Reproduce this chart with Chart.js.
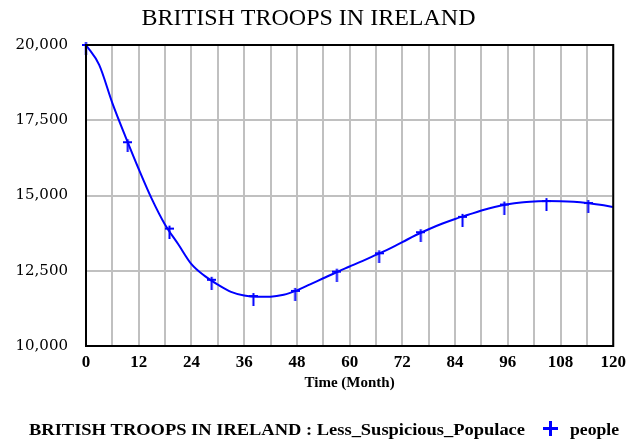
<!DOCTYPE html>
<html>
<head>
<meta charset="utf-8">
<script src="https://cdn.jsdelivr.net/npm/chart.js@4/dist/chart.umd.min.js"></script>
<style>
  html, body { margin: 0; padding: 0; background: #fff; }
  #wrap { width: 632px; height: 444px; }
</style>
</head>
<body>
<div id="wrap"><canvas id="myChart" width="632" height="444"></canvas></div>
<script>
// values
const months = [0, 3, 6, 9, 12, 15, 18, 21, 24, 27, 30, 33, 36, 39, 42, 45, 48, 51, 54, 57, 60,
  63, 66, 69, 72, 75, 78, 81, 84, 87, 90, 93, 96, 99, 102, 105, 108, 111, 114, 117, 120];
const troops = [20000, 19340, 18070, 16950, 15880, 14880, 14030, 13380, 12720, 12330, 12040,
  11800, 11680, 11640, 11640, 11700, 11850, 12050, 12250, 12450, 12640,
  12830, 13030, 13230, 13450, 13680, 13880, 14060, 14220, 14360, 14500,
  14620, 14710, 14770, 14800, 14815, 14810, 14790, 14750, 14690, 14620];
const markerMonths = [0, 9.5, 19, 28.6, 38.1, 47.6, 57.1, 66.7, 76.2, 85.7, 95.2, 104.8, 114.3];
const markerTroops = [20000, 16770, 13900, 12200, 11660, 11830, 12470, 13080, 13780, 14290, 14700, 14815, 14750];
const yTicks = [10000, 12500, 15000, 17500, 20000];

const seriesName = "BRITISH TROOPS IN IRELAND : Less_Suspicious_Populace";
const unitName = "people";
const blue = "#0000ff";

// "+" marker that hangs mostly below the line, like the original
function makeMarker() {
  const c = document.createElement("canvas");
  c.width = 9;
  c.height = 20;
  const g = c.getContext("2d");
  g.fillStyle = blue;
  g.fillRect(3.5, 7, 2, 13);
  g.fillRect(0, 9, 9, 2);
  return c;
}

const framePlugin = {
  id: "frame",
  afterDatasetsDraw(chart) {
    const a = chart.chartArea;
    const ctx = chart.ctx;
    ctx.save();
    ctx.strokeStyle = "#000";
    ctx.lineWidth = 2;
    ctx.strokeRect(a.left, a.top, a.right - a.left, a.bottom - a.top);
    ctx.restore();
  },
  afterDraw(chart) {
    const ctx = chart.ctx;
    ctx.save();
    ctx.fillStyle = "#000";
    ctx.textBaseline = "alphabetic";
    ctx.font = "bold 17px 'Liberation Serif'";
    // squeeze legend text to the width it takes in the reference
    let w = ctx.measureText(seriesName).width;
    ctx.save();
    ctx.translate(29, 435);
    ctx.scale(496 / w, 1);
    ctx.fillText(seriesName, 0, 0);
    ctx.restore();
    w = ctx.measureText(unitName).width;
    ctx.save();
    ctx.translate(570, 435);
    ctx.scale(49 / w, 1);
    ctx.fillText(unitName, 0, 0);
    ctx.restore();
    ctx.fillStyle = blue;
    ctx.fillRect(543, 427, 15, 3);
    ctx.fillRect(549, 421, 3, 15);
    ctx.restore();
  }
};

const ctx = document.getElementById("myChart");

new Chart(ctx, {
  type: "line",
  data: {
    datasets: [
      {
        label: seriesName,
        data: months.map((m, i) => ({ x: m, y: troops[i] })),
        borderColor: blue,
        borderWidth: 2,
        pointRadius: 0,
        cubicInterpolationMode: "monotone",
        clip: false
      },
      {
        label: unitName,
        data: markerMonths.map((m, i) => ({ x: m, y: markerTroops[i] })),
        showLine: false,
        pointStyle: makeMarker(),
        pointRadius: 5,
        clip: false
      }
    ]
  },
  options: {
    responsive: false,
    animation: false,
    layout: { padding: { left: 0, right: 15, top: 0, bottom: 50 } },
    plugins: {
      legend: { display: false },
      tooltip: { enabled: false },
      title: {
        display: true,
        text: "BRITISH TROOPS IN IRELAND",
        color: "#000",
        font: { family: "'Liberation Serif'", size: 24, weight: "normal", lineHeight: 1.2 },
        padding: { top: 4, bottom: 12.2 }
      }
    },
    scales: {
      x: {
        type: "linear",
        min: 0,
        max: 120,
        afterFit(scale) { scale.height = 48; },
        ticks: {
          stepSize: 6,
          autoSkip: false,
          maxRotation: 0,
          padding: 6,
          color: "#000",
          font: { family: "'Liberation Serif'", size: 17, weight: "bold" },
          callback: (v) => (v % 12 === 0 ? v : "")
        },
        grid: { color: "#c0c0c0", lineWidth: 2, drawTicks: false },
        border: { color: "#000", width: 2 },
        title: {
          display: true,
          text: "Time (Month)",
          color: "#000",
          font: { family: "'Liberation Serif'", size: 15, weight: "bold", lineHeight: 1.2 },
          padding: { top: 0, bottom: 2 }
        }
      },
      y: {
        min: 10000,
        max: 20000,
        afterFit(scale) { scale.width = 86; },
        afterBuildTicks(scale) { scale.ticks = yTicks.map((v) => ({ value: v })); },
        ticks: {
          padding: 18,
          color: "#000",
          font: { family: "'DejaVu Serif'", size: 15 },
          callback: (v) => v.toLocaleString("en-US")
        },
        grid: { color: "#c0c0c0", lineWidth: 2, drawTicks: false },
        border: { color: "#000", width: 2 }
      }
    }
  },
  plugins: [framePlugin]
});
</script>
</body>
</html>
